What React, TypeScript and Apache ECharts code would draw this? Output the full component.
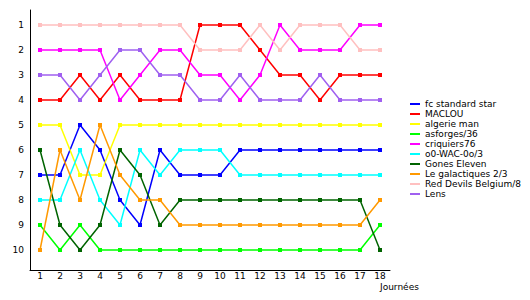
import React, { useEffect, useRef } from "react";
import * as echarts from "echarts";

const rounds = ["1","2","3","4","5","6","7","8","9","10","11","12","13","14","15","16","17","18"];
const rankTicks = [1,2,3,4,5,6,7,8,9,10];

const teamNames = [
  "fc standard star",
  "MACLOU",
  "algerie man",
  "asforges/36",
  "criquiers76",
  "o0-WAC-0o/3",
  "Gones Eleven",
  "Le galactiques 2/3",
  "Red Devils Belgium/8",
  "Lens",
];

const fcStandardStar = [7,7,5,6,8,9,6,7,7,7,6,6,6,6,6,6,6,6];
const maclou = [4,4,3,4,3,4,4,4,1,1,1,2,3,3,4,3,3,3];
const algerieMan = [5,5,7,7,5,5,5,5,5,5,5,5,5,5,5,5,5,5];
const asforges = [9,10,9,10,10,10,10,10,10,10,10,10,10,10,10,10,10,9];
const criquiers = [2,2,2,2,4,3,2,2,3,3,4,3,1,2,2,2,1,1];
const wac = [8,8,6,8,9,6,7,6,6,6,7,7,7,7,7,7,7,7];
const gonesEleven = [6,9,10,9,6,7,9,8,8,8,8,8,8,8,8,8,8,10];
const galactiques = [10,6,8,5,7,8,8,9,9,9,9,9,9,9,9,9,9,8];
const redDevils = [1,1,1,1,1,1,1,1,2,2,2,1,2,1,1,1,2,2];
const lens = [3,3,4,3,2,2,3,3,4,4,3,4,4,4,3,4,4,4];

const seriesValues = [fcStandardStar, maclou, algerieMan, asforges, criquiers, wac, gonesEleven, galactiques, redDevils, lens];
const colors = ["#0000ff","#ff0000","#ffff00","#00ff00","#ff00ff","#00ffff","#006400","#ff9900","#ffc0c0","#a060f0"];

const FONT = "DejaVu Sans";

export default function App() {
  const ref = useRef<HTMLDivElement>(null);
  useEffect(() => {
    document.body.style.margin = "0";
    if (!ref.current) return;
    const chart = echarts.init(ref.current, null, { renderer: "svg" });
    chart.setOption({
      animation: false,
      backgroundColor: "#ffffff",
      color: colors,
      grid: { left: 30, top: 10, width: 360, height: 260, containLabel: false },
      legend: {
        orient: "vertical",
        left: 410,
        top: 99,
        padding: 0,
        itemGap: 0,
        itemWidth: 10,
        itemHeight: 2,
        icon: "rect",
        selectedMode: false,
        data: teamNames,
        textStyle: { fontFamily: FONT, fontSize: 9, lineHeight: 10, color: "#000" },
      },
      xAxis: {
        type: "category",
        data: rounds,
        boundaryGap: true,
        axisLine: { lineStyle: { color: "#000", width: 1 } },
        axisTick: { show: false },
        axisLabel: { fontFamily: FONT, fontSize: 9, color: "#000", margin: 1, interval: 0 },
        splitLine: { show: false },
      },
      yAxis: {
        type: "value",
        inverse: true,
        min: 0.4,
        max: 10.8,
        splitNumber: 10,
        axisLine: { show: true, lineStyle: { color: "#000", width: 1 } },
        axisTick: { show: false },
        splitLine: { show: false },
        axisLabel: {
          fontFamily: FONT,
          fontSize: 9,
          color: "#000",
          margin: 6,
          formatter: (v: number) => (rankTicks.includes(v) ? String(v) : ""),
        },
      },
      graphic: [
        {
          type: "text",
          left: 380,
          top: 282,
          style: { text: "Journées", fontFamily: FONT, fontSize: 9, fill: "#000" },
        },
      ],
      series: teamNames.map((name, i) => ({
        name,
        type: "line",
        data: seriesValues[i],
        symbol: "rect",
        symbolSize: 4,
        lineStyle: { width: 1.5, color: colors[i] },
        itemStyle: { color: colors[i] },
        emphasis: { disabled: true },
      })),
    });
    return () => chart.dispose();
  }, []);
  return <div ref={ref} style={{ width: 530, height: 300 }} />;
}
